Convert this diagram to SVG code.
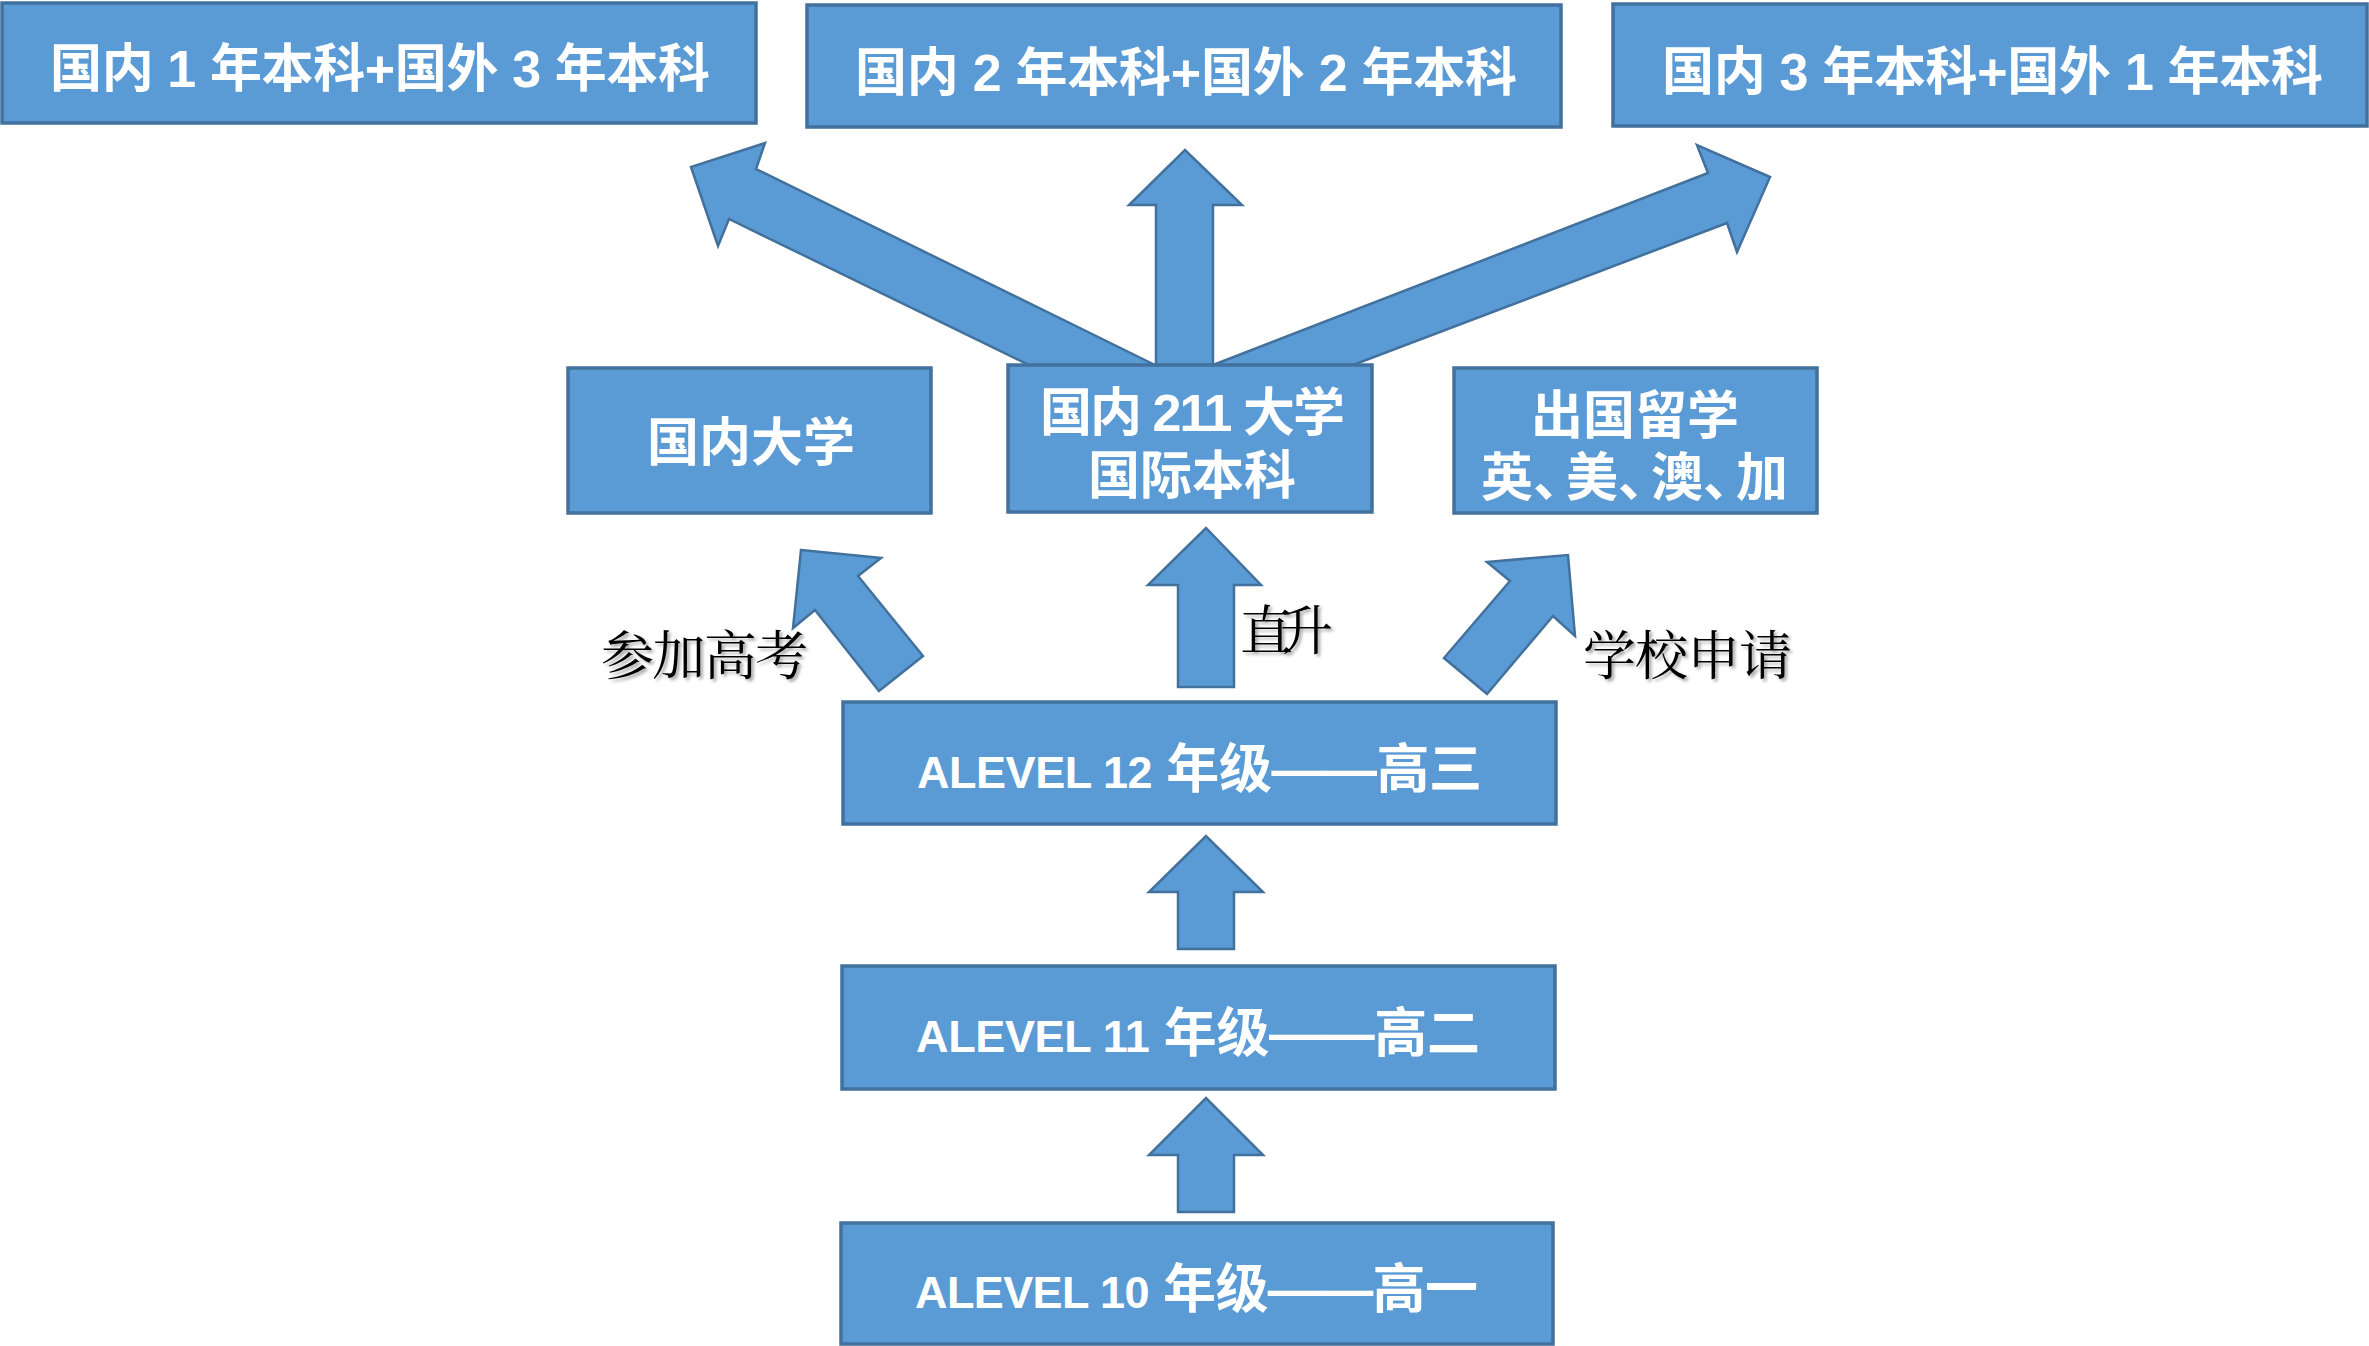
<svg xmlns="http://www.w3.org/2000/svg" width="2369" height="1346" viewBox="0 0 2369 1346">
<defs>
<filter id="sh" x="-10%" y="-20%" width="130%" height="150%">
<feDropShadow dx="2.5" dy="2.5" stdDeviation="1.5" flood-color="#000" flood-opacity="0.35"/>
</filter>
</defs>
<style>
.box{fill:#5B9BD5;stroke:#41719C;stroke-width:3.5}
.arr{fill:#5B9BD5;stroke:#41719C;stroke-width:2.5;stroke-linejoin:miter}
.t{font-family:"Liberation Sans","Noto Sans CJK SC",sans-serif;font-weight:bold;fill:#fff;font-size:52px}
.g{font-size:53px}
.lat{font-size:45px}
.c{text-anchor:middle}
.lbl{font-family:"Noto Serif CJK SC","Noto Sans CJK SC",serif;fill:#000;font-size:53px;filter:url(#sh)}
</style>
<rect width="2369" height="1346" fill="#fff"/>

<g id="connectors">
<polygon class="arr" points="1029,365 729,219 718,246 691,167 765,143 756,169 1155,365"/>
<polygon class="arr" points="1213,365 1708,173 1697,145 1770,177 1737,252 1727,223 1353,365"/>
<polygon class="arr" points="1156,365 1156,205 1129,205 1185,150 1242,205 1213,205 1213,365"/>
<polygon class="arr" points="801,550 881,558 858,576 923,656 879,691 815,610 793,628"/>
<polygon class="arr" points="1178,687 1178,585 1148,585 1206,528 1261,585 1234,585 1234,687"/>
<polygon class="arr" points="1487,562 1568,555 1575,636 1553,616 1487,694 1444,658 1510,581"/>
<polygon class="arr" points="1178,949 1178,892 1149,892 1206,836 1263,892 1234,892 1234,949"/>
<polygon class="arr" points="1178,1212 1178,1155 1149,1155 1206,1098 1263,1155 1234,1155 1234,1212"/>
<text class="lbl" x="601" y="675" textLength="207" lengthAdjust="spacing">参加高考</text>
<text class="lbl" x="1240" y="650" font-size="50" textLength="93" lengthAdjust="spacing">直升</text>
<text class="lbl" x="1583" y="675" textLength="209" lengthAdjust="spacing">学校申请</text>
</g>

<g id="top1">
<rect class="box" x="2" y="3" width="754" height="120"/>
<text class="t" x="50" y="87" textLength="660" lengthAdjust="spacing">国内 1 年本科+国外 3 年本科</text>
</g>
<g id="top2">
<rect class="box" x="807" y="5" width="754" height="122"/>
<text class="t" x="855" y="91" textLength="662" lengthAdjust="spacing">国内 2 年本科+国外 2 年本科</text>
</g>
<g id="top3">
<rect class="box" x="1613" y="4" width="754" height="122"/>
<text class="t" x="1662" y="90" textLength="661" lengthAdjust="spacing">国内 3 年本科+国外 1 年本科</text>
</g>

<g id="domestic">
<rect class="box" x="568" y="368" width="363" height="145"/>
<text class="t c" x="751" y="461">国内大学</text>
</g>
<g id="intl211">
<rect class="box" x="1008" y="365" width="364" height="147"/>
<text class="t" x="1040" y="431" textLength="305" lengthAdjust="spacing">国内 211 大学</text>
<text class="t c" x="1192" y="494">国际本科</text>
</g>
<g id="abroad">
<rect class="box" x="1454" y="368" width="363" height="145"/>
<text class="t c" x="1635" y="434">出国留学</text>
<text class="t" x="1481 1533 1566 1618 1651 1703 1736" y="496">英、美、澳、加</text>
</g>

<g id="grade12">
<rect class="box" x="843" y="702" width="713" height="122"/>
<text class="t g" x="917" y="788" textLength="565" lengthAdjust="spacing"><tspan class="lat">ALEVEL 12</tspan> 年级——高三</text>
</g>
<g id="grade11">
<rect class="box" x="842" y="966" width="713" height="123"/>
<text class="t g" x="916" y="1052" textLength="564" lengthAdjust="spacing"><tspan class="lat">ALEVEL 11</tspan> 年级——高二</text>
</g>
<g id="grade10">
<rect class="box" x="841" y="1223" width="712" height="121"/>
<text class="t g" x="915" y="1308" textLength="563" lengthAdjust="spacing"><tspan class="lat">ALEVEL 10</tspan> 年级——高一</text>
</g>
</svg>
